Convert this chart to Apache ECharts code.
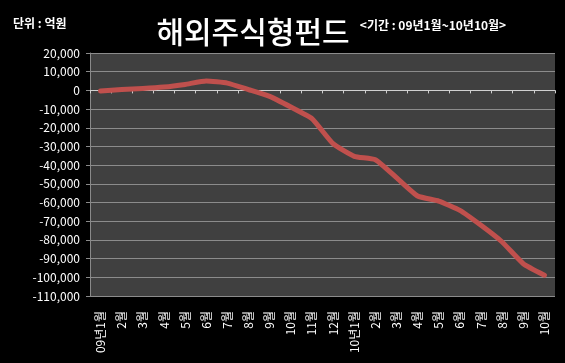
<!DOCTYPE html>
<html>
<head>
<meta charset="utf-8">
<script src="https://cdn.jsdelivr.net/npm/echarts@6/dist/echarts.min.js"></script>
<style>
html,body{margin:0;padding:0;background:#000;}
#main{width:565px;height:363px;}
</style>
</head>
<body>
<div id="main"></div>
<script>
const categories = ['09년1월','2월','3월','4월','5월','6월','7월','8월','9월','10월','11월','12월',
                    '10년1월','2월','3월','4월','5월','6월','7월','8월','9월','10월'];
const fundValues = [-300, 500, 1000, 1800, 3200, 5000, 3900, 400, -3200, -8900, -15100, -28500,
                    -35300, -37100, -46700, -56500, -59200, -64200, -72200, -81100, -92700, -98900];
const yMin = -110000, yMax = 20000, yStep = 10000;
const titleText = '해외주식형펀드';
const unitText = '단위 : 억원';
const periodText = '<기간 : 09년1월~10년10월>';

const FONT = '"Noto Sans CJK KR", "Noto Sans", sans-serif';
const chart = echarts.init(document.getElementById('main'));
chart.setOption({
  backgroundColor: '#000000',
  animation: false,
  graphic: [
    {type:'text', left: 13, top: 17, style:{text: unitText, fill:'#ffffff', font:'bold 12px ' + FONT}},
    {type:'text', x: 253, y: 32, style:{text: titleText, fill:'#ffffff', font:'500 30px ' + FONT, align:'center', verticalAlign:'middle'}},
    {type:'text', x: 433, y: 25, style:{text: periodText, fill:'#ffffff', font:'bold 12px ' + FONT, align:'center', verticalAlign:'middle'}}
  ],
  grid: {left: 90, right: 10, top: 53, bottom: 67, show: true, backgroundColor: '#404040', borderWidth: 0},
  xAxis: [
    {
      type: 'category', data: categories, boundaryGap: true, position: 'bottom',
      axisLine: {show: false, onZero: false},
      axisTick: {show: false},
      axisLabel: {rotate: 90, margin: 15, color: '#ffffff', fontSize: 12, fontFamily: FONT, interval: 0}
    },
    {
      type: 'category', data: categories, boundaryGap: true, position: 'bottom',
      axisLine: {show: true, onZero: true, lineStyle: {color: '#d0d0d0', width: 1}},
      axisTick: {show: true, length: 3, interval: 0, lineStyle: {color: '#d0d0d0'}},
      axisLabel: {show: false}
    }
  ],
  yAxis: {
    type: 'value', min: yMin, max: yMax, interval: yStep,
    axisLine: {show: true, lineStyle: {color: '#8a8a8a'}},
    axisTick: {show: true, length: 4, lineStyle: {color: '#8a8a8a'}},
    axisLabel: {color: '#ffffff', fontSize: 12, fontFamily: FONT, margin: 10,
      formatter: v => v.toLocaleString('en-US')},
    splitLine: {lineStyle: {color: '#8c8c8c', width: 1}}
  },
  series: [{
    type: 'line', data: fundValues, xAxisIndex: 0,
    symbol: 'none', smooth: 0.15,
    lineStyle: {color: '#c0504d', width: 5, join: 'round', cap: 'round'}
  }]
});
</script>
</body>
</html>
